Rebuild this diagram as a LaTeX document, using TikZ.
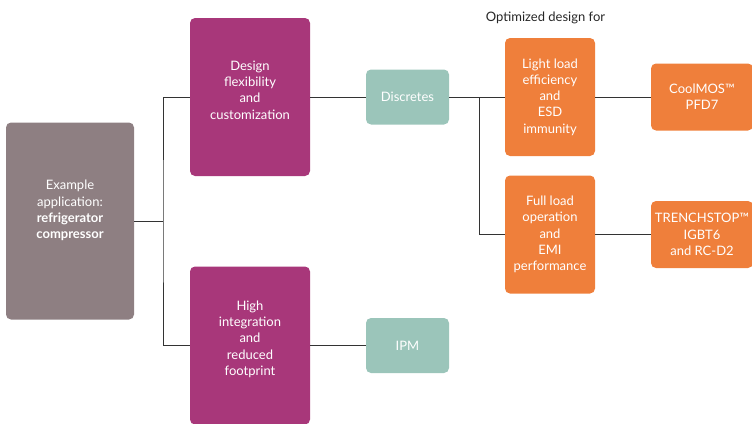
\documentclass[tikz,border=0pt]{standalone}
\usepackage{fontspec}
\setmainfont{Lato}
\usetikzlibrary{positioning}
\usepackage{xcolor}
\definecolor{Mauve}{HTML}{8E7F82}
\definecolor{Berry}{HTML}{A8377A}
\definecolor{Sage}{HTML}{9BC5BA}
\definecolor{Tangerine}{HTML}{EF7F3B}
\definecolor{Wire}{HTML}{333333}

\begin{document}
\begin{tikzpicture}[x=1pt, y=-1pt,
  blk/.style={rounded corners=5pt, align=center, text=white,
              font=\fontsize{13}{16.3}\selectfont, inner sep=2pt},
  appbox/.style={blk, fill=Mauve, minimum width=128pt, minimum height=197pt},
  featbox/.style={blk, fill=Berry, minimum width=120pt, minimum height=158pt},
  typebox/.style={blk, fill=Sage, minimum width=83pt, minimum height=55pt},
  optbox/.style={blk, fill=Tangerine, minimum width=90pt, minimum height=118pt},
  prodbox/.style={blk, fill=Tangerine, minimum width=102pt, minimum height=67pt},
  wire/.style={draw=Wire, line width=0.8pt}
]
  \useasboundingbox (0,0) rectangle (752,423);

  \node[appbox, text depth=23pt]  (app)   at (70,221)  {Example\\application:\\\textbf{refrigerator}\\\textbf{compressor}};
  \node[featbox, text depth=14pt] (flex)  at (250,97)  {Design\\flexibility\\and\\customization};
  \node[featbox, text depth=15pt] (integ) at (250,345.5) {High\\integration\\and\\reduced\\footprint};
  \node[typebox] (disc)  at (407.5,97) {Discretes};
  \node[typebox] (ipm)   at (407.5,345.5) {IPM};
  \node[optbox]  (light) at (550,97)  {Light load\\efficiency\\and\\ESD\\immunity};
  \node[optbox]  (full)  at (550,234.5) {Full load\\operation\\and\\EMI\\performance};
  \node[prodbox] (cool)  at (702,97)  {CoolMOS™\\PFD7};
  \node[prodbox] (trench) at (702,234.5) {TRENCHSTOP™\\IGBT6\\and RC-D2};
  \node[font=\fontsize{13}{15}\selectfont, text=black!85] (optfor) at (545.5,18) {Optimized design for};

  \coordinate (split1) at (163,221);
  \coordinate (split2) at (479,97);

  \draw[wire] (app.east) -- (split1);
  \draw[wire] (flex.west) -| (split1) |- (integ.west);
  \draw[wire] (flex.east) -- (disc.west);
  \draw[wire] (integ.east) -- (ipm.west);
  \draw[wire] (disc.east) -- (light.west);
  \draw[wire] (split2) |- (full.west);
  \draw[wire] (light.east) -- (cool.west);
  \draw[wire] (full.east) -- (trench.west);
\end{tikzpicture}
\end{document}
